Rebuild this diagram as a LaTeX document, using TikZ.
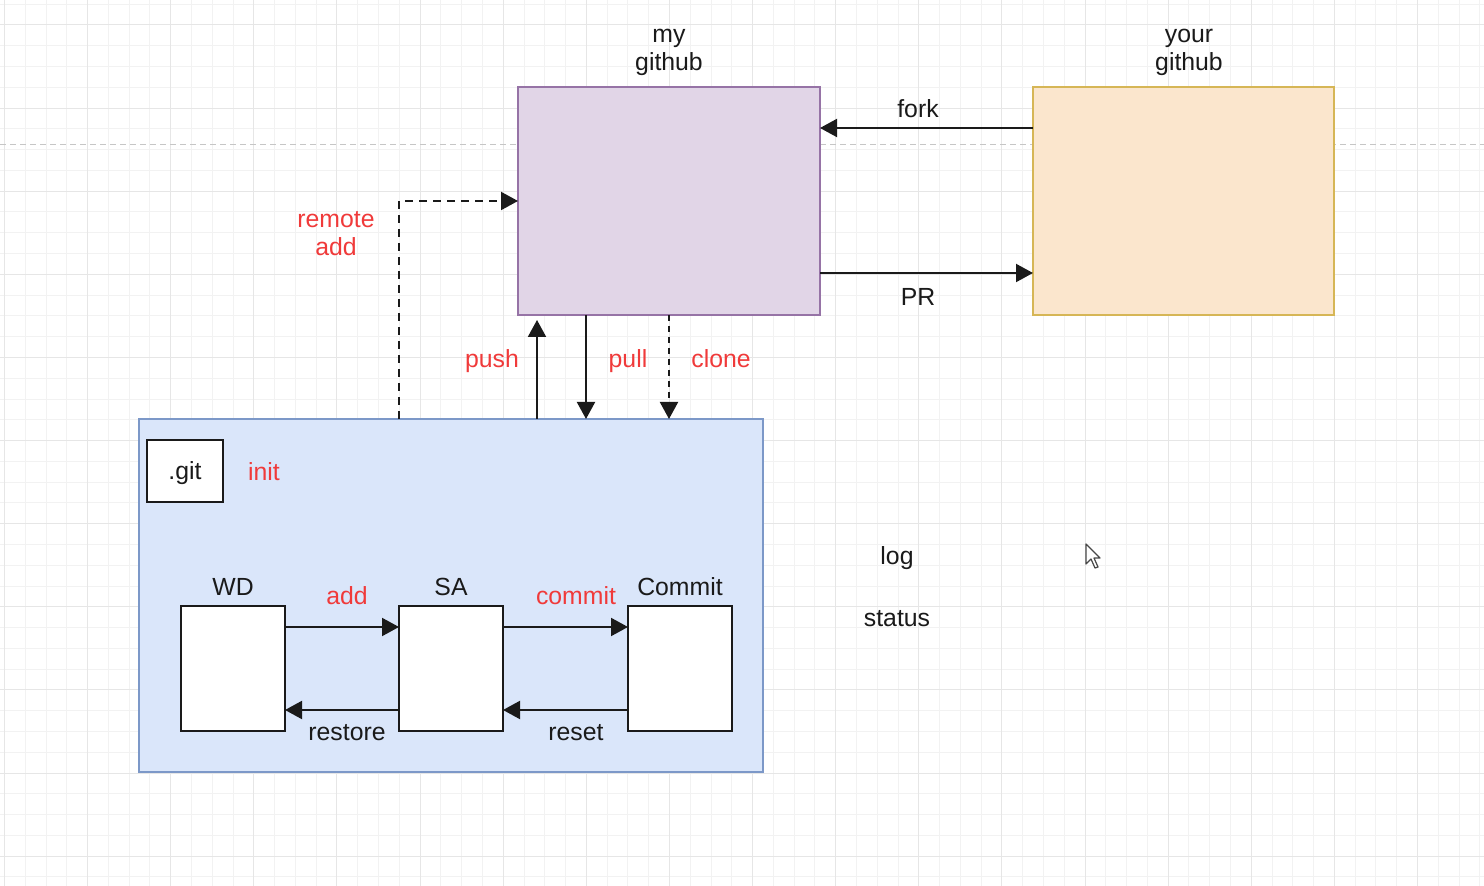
\documentclass[tikz,border=0pt]{standalone}
\usepackage{fontspec}
\setmainfont{Liberation Sans}
\usetikzlibrary{arrows.meta,calc}
\definecolor{myfill}{HTML}{E1D5E7}
\definecolor{mydraw}{HTML}{9673A6}
\definecolor{yourfill}{HTML}{FBE6CD}
\definecolor{yourdraw}{HTML}{D6B656}
\definecolor{localfill}{HTML}{DAE6FA}
\definecolor{localdraw}{HTML}{7C98C8}
\definecolor{cmdred}{HTML}{F03A3A}
\definecolor{ink}{HTML}{1A1A1A}
\definecolor{gridminor}{HTML}{F2F2F2}
\definecolor{gridmajor}{HTML}{E6E6E6}
\tikzset{
  px/.style 2 args={minimum width=#1*0.5pt,minimum height=#2*0.5pt},
  box/.style={draw,line width=1pt,inner sep=0pt,outer sep=0pt},
  stage/.style={box,draw=ink,fill=white,line width=1.2pt},
  arr/.style={draw=ink,line width=1pt,-{Triangle[length=8.5pt,width=9pt]}},
  lbl/.style={inner sep=0pt,anchor=base,text=ink,font=\fontsize{12.4pt}{14pt}\selectfont},
  redlbl/.style={lbl,text=cmdred},
  minorgrid/.style={draw=gridminor,line width=0.5pt},
  majorgrid/.style={draw=gridmajor,line width=0.5pt}
}
\begin{document}
\begin{tikzpicture}[x=0.5pt,y=-0.5pt]
\useasboundingbox[fill=white] (0,0) rectangle (1484,886);
% grid
\foreach \i in {0,...,71} \draw[minorgrid] ({4.5+20.78*\i},0) -- ++(0,886);
\foreach \i in {0,...,42} \draw[minorgrid] (0,{4.2+20.78*\i}) -- ++(1484,0);
\foreach \i in {0,...,17} \draw[majorgrid] ({4.5+83.12*\i},0) -- ++(0,886);
\foreach \i in {0,...,10} \draw[majorgrid] (0,{25+83.12*\i}) -- ++(1484,0);
\draw[gray!45,line width=0.5pt,dash pattern=on 3pt off 2pt] (0,145) -- (1484,145);
% remotes
\node[box,draw=mydraw,fill=myfill,px={302}{228}] (mygh) at (669,201) {};
\node[box,draw=yourdraw,fill=yourfill,px={301}{228}] (yourgh) at (1183.5,201) {};
\node[lbl,anchor=center,align=center] (mylbl) at (669,52) {my\\github};
\node[lbl,anchor=center,align=center] (yourlbl) at (1189,52) {your\\github};
\draw[arr] ($(yourgh.west)+(0,-73)$) -- ($(mygh.east)+(0,-73)$);
\node[lbl] (forklbl) at (918,118) {fork};
\draw[arr] ($(mygh.east)+(0,72)$) -- ($(yourgh.west)+(0,72)$);
\node[lbl] (prlbl) at (918,306) {PR};
% local repository
\node[box,draw=localdraw,fill=localfill,px={624}{353}] (local) at (451,595.5) {};
\node[stage,px={76}{62},text depth=0pt,font=\fontsize{12.4pt}{14pt}\selectfont,text=ink] (gitdir) at (185,471) {.git};
\node[redlbl] (initlbl) at (264,481) {init};
\node[stage,px={104}{125}] (wd) at (233,668.5) {};
\node[stage,px={104}{125}] (sa) at (451,668.5) {};
\node[stage,px={104}{125}] (cm) at (680,668.5) {};
\node[lbl] (wdlbl) at (233,596) {WD};
\node[lbl] (salbl) at (451,596) {SA};
\node[lbl] (cmlbl) at (680,596) {Commit};
\draw[arr] ($(wd.east)+(0,-41.5)$) -- ($(sa.west)+(0,-41.5)$);
\draw[arr] ($(sa.east)+(0,-41.5)$) -- ($(cm.west)+(0,-41.5)$);
\draw[arr] ($(sa.west)+(0,41.5)$) -- ($(wd.east)+(0,41.5)$);
\draw[arr] ($(cm.west)+(0,41.5)$) -- ($(sa.east)+(0,41.5)$);
\node[redlbl] (addlbl) at (347,605) {add};
\node[redlbl] (commitlbl) at (576,605) {commit};
\node[lbl] (restorelbl) at (347,741) {restore};
\node[lbl] (resetlbl) at (576,741) {reset};
% local <-> my github
\draw[arr,dash pattern=on 4pt off 3pt] ($(local.north west)+(260,0)$) |- (mygh.west);
\node[redlbl,anchor=center,align=center] (remotelbl) at (336,234) {remote\\add};
\draw[arr] ($(local.north)+(86,0)$) -- ($(mygh.south west)+(19,5)$);
\draw[arr] ($(mygh.south west)+(68,0)$) -- ($(local.north)+(135,0)$);
\draw[arr,dash pattern=on 3pt off 2.5pt] (mygh.south) -- ($(local.north)+(218,0)$);
\node[redlbl] (pushlbl) at (492,368) {push};
\node[redlbl] (pulllbl) at (628,368) {pull};
\node[redlbl] (clonelbl) at (721,368) {clone};
% other commands
\node[lbl] (loglbl) at (897,565) {log};
\node[lbl] (statuslbl) at (897,627) {status};
% mouse pointer
\draw[ink!80,fill=white,line width=0.6pt,line join=round] (1086,544) -- ++(0,20) -- ++(5,-5) -- ++(4,9) -- ++(3,-1) -- ++(-4,-9) -- ++(6,0) -- cycle;
\end{tikzpicture}
\end{document}
